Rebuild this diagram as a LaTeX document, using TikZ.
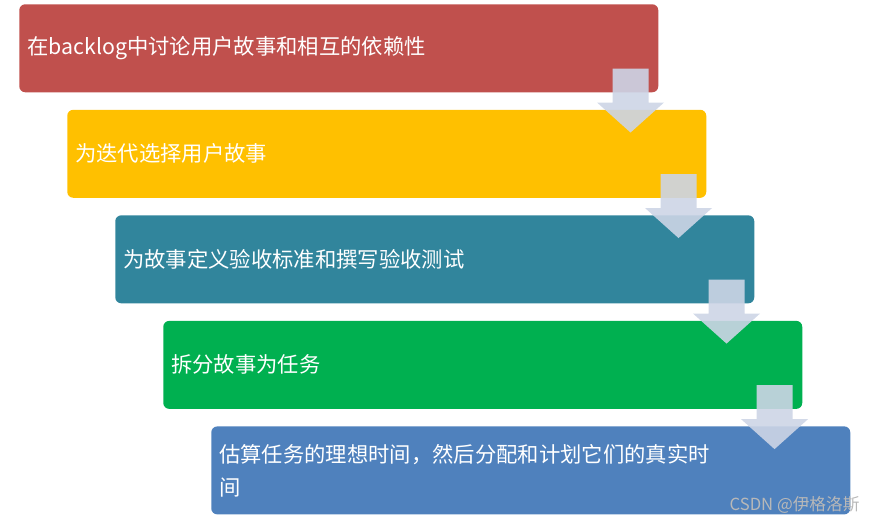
\documentclass[tikz,border=0pt]{standalone}
\usepackage{fontspec}
\setmainfont{Noto Sans CJK SC}
\usetikzlibrary{arrows,positioning}
\definecolor{red1}{HTML}{C0504D}
\definecolor{gold1}{HTML}{FFC000}
\definecolor{teal1}{HTML}{31859C}
\definecolor{green1}{HTML}{00B050}
\definecolor{blue1}{HTML}{4F81BD}
\definecolor{arrowc}{HTML}{CDD5E6}
\definecolor{wmgray}{HTML}{B8B8B8}
\tikzset{
    %Define style for boxes
    stage/.style={
           rectangle,
           rounded corners=4.5pt,
           minimum width=479.25pt,
           minimum height=66pt,
           text width=467.25pt,
           inner xsep=6pt,
           align=left,
           text=white,
           font=\fontsize{16pt}{24.75pt}\selectfont,
           anchor=north west},
    % Define style for the block arrows
    downarrow/.pic={
           \fill[arrowc, opacity=0.9] (-13.5pt,0) -- (13.5pt,0) -- (13.5pt,-25.5pt)
             -- (25.1pt,-25.5pt) -- (0,-48pt) -- (-25.1pt,-25.5pt)
             -- (-13.5pt,-25.5pt) -- cycle;}
}
\begin{document}
\begin{tikzpicture}[node distance=12.75pt]
\useasboundingbox (0,0) rectangle (659.25pt,-393pt);
\node[stage, fill=red1] (S1) at (14.25pt,-3pt) {在backlog中讨论用户故事和相互的依赖性};
\node[stage, fill=gold1, below=of S1.south west, anchor=north west, xshift=36pt] (S2) {为迭代选择用户故事};
\node[stage, fill=teal1, below=of S2.south west, anchor=north west, xshift=36pt] (S3) {为故事定义验收标准和撰写验收测试};
\node[stage, fill=green1, below=of S3.south west, anchor=north west, xshift=36pt] (S4) {拆分故事为任务};
\node[stage, fill=blue1, below=of S4.south west, anchor=north west, xshift=36pt] (S5) {估算任务的理想时间，然后分配和计划它们的真实时\\间};
% arrows between the stages
\foreach \s in {S1,S2,S3,S4}
  \pic at ([xshift=-21pt,yshift=18pt]\s.south east) {downarrow};
\node[text=wmgray, font=\fontsize{12.5pt}{14pt}\selectfont] (wm) at (595.9pt,-378.75pt) {CSDN @伊格洛斯};
\end{tikzpicture}
\end{document}
